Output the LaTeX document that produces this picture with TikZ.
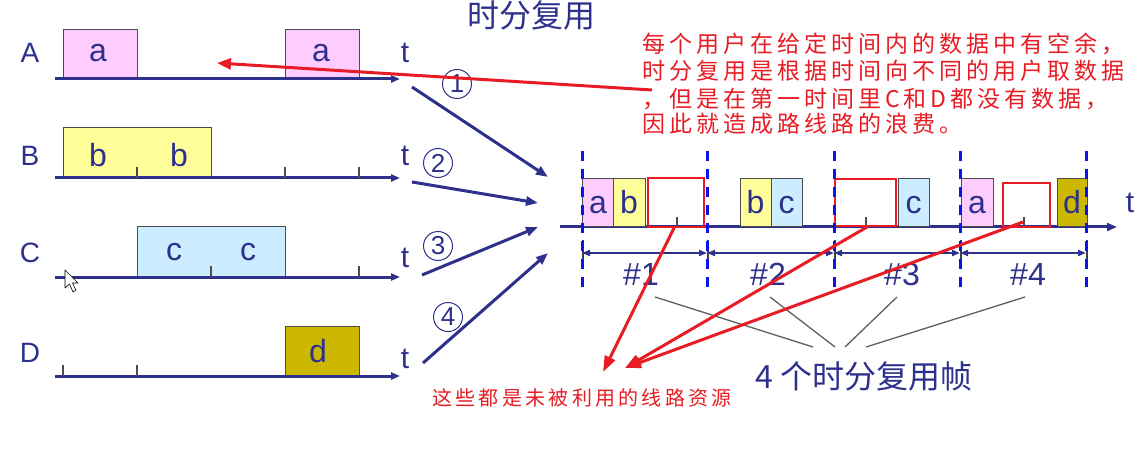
\documentclass[tikz,border=0pt]{standalone}
\usepackage{fontspec}
\setmainfont{Liberation Sans}
\newfontfamily\cjk{Noto Sans CJK SC}
\usetikzlibrary{arrows.meta}
\definecolor{navy}{RGB}{46,49,140}
\definecolor{dblue}{RGB}{10,20,230}
\definecolor{pinkA}{RGB}{255,204,255}
\definecolor{yelB}{RGB}{255,255,153}
\definecolor{bluC}{RGB}{204,236,255}
\definecolor{oliD}{RGB}{204,184,0}
\definecolor{redT}{RGB}{232,28,36}
\definecolor{grayL}{RGB}{95,95,95}
\newdimen\lspace
\makeatletter
\def\spaced#1{\sp@ced#1\relax}
\def\sp@ced#1{\ifx\relax#1\else#1\kern\lspace\expandafter\sp@ced\fi}
\makeatother
\begin{document}
\begin{tikzpicture}[x=1pt,y=-1pt,
  tl/.style={navy, line width=3pt, -{Triangle[length=9pt,width=7pt]}},
  tickmark/.style={black!70, line width=1.3pt},
  slot/.style={draw=black!70, line width=1pt, inner sep=0pt, outer sep=0pt},
  emptyslot/.style={draw=redT, line width=2pt, inner sep=0pt, outer sep=0pt},
  lbl/.style={navy, anchor=base, inner sep=0pt, font=\fontsize{32}{36}\selectfont},
  rowlbl/.style={navy, anchor=base, inner sep=0pt, font=\fontsize{28}{32}\selectfont},
  tlbl/.style={navy, anchor=base, inner sep=0pt, font=\fontsize{30}{34}\selectfont},
  circ/.style={circle, draw=navy, line width=1pt, minimum size=29pt, inner sep=0pt, text=navy, font=\fontsize{26}{28}\selectfont},
  inarrow/.style={navy, line width=3pt, -{Triangle[length=12pt,width=9pt]}},
  mux/.style={navy, line width=3pt, -{Triangle[length=10pt,width=8pt]}},
  framesep/.style={dblue, line width=3pt, dash pattern=on 10pt off 8pt},
  span/.style={navy, line width=2pt, {Triangle[length=8pt,width=6pt]}-{Triangle[length=8pt,width=6pt]}},
  spanend/.style={black!75, line width=1.3pt},
  pointer/.style={grayL, line width=1.3pt},
  redarrow/.style={redT, line width=3pt, -{Triangle[length=16pt,width=11pt]}},
  redtext/.style={text=redT, anchor=base west, inner sep=0pt},
  framelbl/.style={navy, anchor=base, inner sep=0pt, font=\fontsize{32}{34}\selectfont},
]
\useasboundingbox (0,0) rectangle (1138,449);
\fill[white] (0,0) rectangle (1138,449);

% ---------- title
\node[text=navy, font=\cjk\fontsize{32}{36}\selectfont, inner sep=0pt] (title) at (531,15) {时分复用};

% ---------- row A
\node[slot, fill=pinkA, minimum width=74pt, minimum height=49pt] (Aa1) at (100,54.5) {};
\node[slot, fill=pinkA, minimum width=74pt, minimum height=49pt] (Aa2) at (322,54.5) {};
\coordinate (A0) at (55,79); \coordinate (A1) at (400,79);
\draw[tl] (A0) -- (A1);
\node[lbl] (la1) at (98,62) {a};
\node[lbl] (la2) at (321,62) {a};
\node[rowlbl] (rA) at (30,63) {A};
\node[tlbl] (tA) at (405,63) {t};

% ---------- row B
\node[slot, fill=yelB, minimum width=148pt, minimum height=50pt] (Bb) at (137,153) {};
\coordinate (B0) at (55,178); \coordinate (B1) at (400,178);
\draw[tl] (B0) -- (B1);
\coordinate (Bt1) at (137,178); \coordinate (Bt2) at (285,178); \coordinate (Bt3) at (359,178);
\foreach \t in {Bt1,Bt2,Bt3} \draw[tickmark] (\t) -- ++(0,-11);
\node[lbl] (lb1) at (98,167) {b};
\node[lbl] (lb2) at (179,167) {b};
\node[rowlbl] (rB) at (30,166) {B};
\node[tlbl] (tB) at (405,166) {t};

% ---------- row C
\node[slot, fill=bluC, minimum width=148pt, minimum height=50pt] (Cc) at (211,252) {};
\coordinate (C0) at (55,277); \coordinate (C1) at (400,277);
\draw[tl] (C0) -- (C1);
\coordinate (Ct1) at (211,277); \coordinate (Ct2) at (359,277);
\foreach \t in {Ct1,Ct2} \draw[tickmark] (\t) -- ++(0,-11);
\node[lbl] (lc1) at (174,260) {c};
\node[lbl] (lc2) at (248,260) {c};
\node[rowlbl] (rC) at (30,262) {C};
\node[tlbl] (tC) at (405,268) {t};
% mouse cursor
\draw[black, fill=white, line width=0.6pt, line join=round]
  (65,270) -- (65,288) -- (69.5,284) -- (73,292) -- (76,290.5) -- (72.5,283) -- (78,283) -- cycle;

% ---------- row D
\node[slot, fill=oliD, minimum width=74pt, minimum height=50pt] (Dd) at (322,351) {};
\coordinate (D0) at (55,376); \coordinate (D1) at (400,376);
\draw[tl] (D0) -- (D1);
\coordinate (Dt1) at (63,376); \coordinate (Dt2) at (137,376);
\foreach \t in {Dt1,Dt2} \draw[tickmark] (\t) -- ++(0,-11);
\node[lbl] (ld) at (318,362) {d};
\node[rowlbl] (rD) at (30,362) {D};
\node[tlbl] (tD) at (405,368) {t};

% ---------- input arrows with circled numbers
\coordinate (i1s) at (412,87);  \coordinate (i1e) at (548,177);
\coordinate (i2s) at (412,182); \coordinate (i2e) at (538,203);
\coordinate (i3s) at (422,275); \coordinate (i3e) at (538,227);
\coordinate (i4s) at (423,363); \coordinate (i4e) at (548,253);
\draw[inarrow] (i1s) -- (i1e);
\draw[inarrow] (i2s) -- (i2e);
\draw[inarrow] (i3s) -- (i3e);
\draw[inarrow] (i4s) -- (i4e);
\node[circ] (n1) at (457,84) {1};
\node[circ] (n2) at (438,163) {2};
\node[circ] (n3) at (438,246) {3};
\node[circ] (n4) at (448,317) {4};

% ---------- multiplexed line
\coordinate (M0) at (560,227); \coordinate (M1) at (1117,227);
\draw[mux] (M0) -- (M1);
\node[tlbl] (tM) at (1130,213) {t};

% frame 1
\node[slot, fill=pinkA, minimum width=31pt, minimum height=48pt] (Fa1) at (597.5,203) {};
\node[slot, fill=yelB, minimum width=32pt, minimum height=48pt] (Fb1) at (629,203) {};
\node[lbl] (fla1) at (598,214) {a};
\node[lbl] (flb1) at (629,214) {b};
\coordinate (e1t) at (677,227);
\draw[tickmark] (e1t) -- ++(0,-10);
\node[emptyslot, minimum width=56pt, minimum height=49pt] (Fe1) at (676,202.5) {};
% frame 2
\node[slot, fill=yelB, minimum width=31pt, minimum height=48pt] (Fb2) at (755.5,203) {};
\node[slot, fill=bluC, minimum width=31pt, minimum height=48pt] (Fc2) at (786.5,203) {};
\node[lbl] (flb2) at (755.5,214) {b};
\node[lbl] (flc2) at (786.5,214) {c};
% frame 3
\coordinate (e3t) at (866,227);
\draw[tickmark] (e3t) -- ++(0,-10);
\node[emptyslot, minimum width=61pt, minimum height=47pt] (Fe3) at (865.5,202.5) {};
\node[slot, fill=bluC, minimum width=31pt, minimum height=48pt] (Fc3) at (913.5,203) {};
\node[lbl] (flc3) at (913.5,214) {c};
% frame 4
\node[slot, fill=pinkA, minimum width=32pt, minimum height=48pt] (Fa4) at (977,203) {};
\node[lbl] (fla4) at (977,214) {a};
\coordinate (e4t) at (1024,227);
\draw[tickmark] (e4t) -- ++(0,-10);
\node[emptyslot, minimum width=47pt, minimum height=44pt] (Fe4) at (1026.5,205) {};
\node[slot, fill=oliD, minimum width=30pt, minimum height=48pt] (Fd4) at (1072,203) {};
\node[lbl] (fld4) at (1072,214) {d};

% frame boundaries, spans
\foreach \x [count=\i] in {582,707,834,960,1086} {
  \coordinate (fb\i) at (\x,253);
  \draw[spanend] (\x+1,240) -- (\x+1,264);
}
\draw[span] (fb1) -- (fb2);
\draw[span] (fb2) -- (fb3);
\draw[span] (fb3) -- (fb4);
\draw[span] (fb4) -- (fb5);
\foreach \x in {582,707,834,960,1086}
  \draw[framesep] (\x,151) -- (\x,292);
\node[framelbl] (f1) at (641,285) {\#1};
\node[framelbl] (f2) at (768,285) {\#2};
\node[framelbl] (f3) at (902,285) {\#3};
\node[framelbl] (f4) at (1028,285) {\#4};

% pointers to the caption
\node[text=navy, font=\cjk\fontsize{32}{36}\selectfont, inner sep=0pt] (cap) at (864,376) {4 个时分复用帧};
\coordinate (p1) at (655,297); \coordinate (p2) at (770,297);
\coordinate (p3) at (897,297); \coordinate (p4) at (1025,297);
\coordinate (q1) at (813,347); \coordinate (q2) at (835,347);
\coordinate (q3) at (845,347); \coordinate (q4) at (866,347);
\draw[pointer] (p1) -- (q1);
\draw[pointer] (p2) -- (q2);
\draw[pointer] (p3) -- (q3);
\draw[pointer] (p4) -- (q4);

% ---------- red annotations
\node[redtext, font=\cjk\fontsize{23}{27}\selectfont] (r1) at (642,53) {\lspace=4pt\spaced{每个用户在给定时间内的数据中有空余，}};
\node[redtext, font=\cjk\fontsize{23}{27}\selectfont] (r2) at (642,80) {\lspace=4pt\spaced{时分复用是根据时间向不同的用户取数据}};
\node[redtext, font=\cjk\fontsize{23}{27}\selectfont] (r3) at (642,108) {\lspace=4pt\spaced{，但是在第一时间里C和D都没有数据，}};
\node[redtext, font=\cjk\fontsize{23}{27}\selectfont] (r4) at (642,133) {\lspace=4pt\spaced{因此就造成路线路的浪费。}};
\coordinate (rs) at (652,90); \coordinate (gapA) at (217,63);
\draw[redarrow, -{Triangle[length=14pt,width=11pt]}] (rs) -- (gapA);

\node[redtext, font=\cjk\fontsize{20}{24}\selectfont] (note) at (432,405) {\lspace=3.3pt\spaced{这些都是未被利用的线路资源}};
\coordinate (tip1) at (603,372); \coordinate (tip2) at (625,368);
\coordinate (s1) at (674,228); \coordinate (s3) at (867,227); \coordinate (s4) at (1023,222);
\draw[redarrow] (s1) -- (tip1);
\draw[redarrow] (s3) -- (tip2);
\draw[redarrow] (s4) -- (tip2);
\end{tikzpicture}
\end{document}
